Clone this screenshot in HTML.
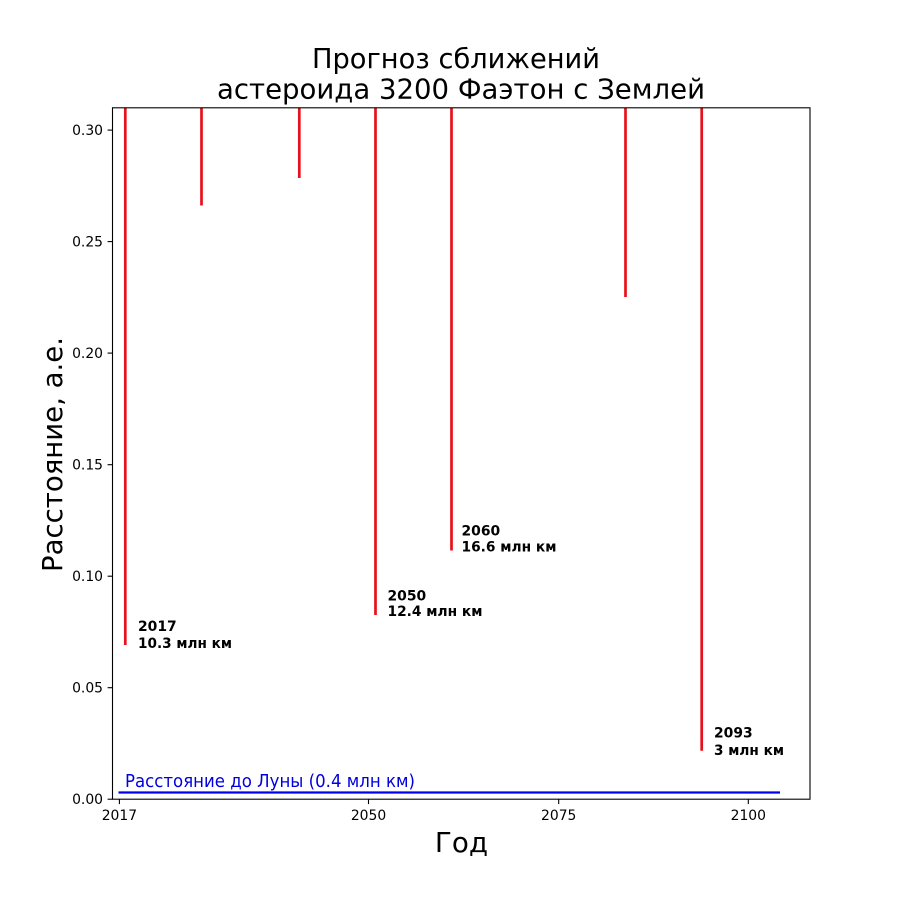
<!DOCTYPE html>
<html><head><meta charset="utf-8"><style>
html,body{margin:0;padding:0;background:#fff;}
svg{display:block;font-family:"DejaVu Sans","Liberation Sans",sans-serif;}
</style></head><body>
<svg width="900" height="898" viewBox="0 0 900 898" xmlns="http://www.w3.org/2000/svg">
<rect width="900" height="898" fill="#fff"/>
<!-- title -->
<text x="456" y="68" font-size="27.8" text-anchor="middle" textLength="288" lengthAdjust="spacingAndGlyphs">Прогноз сближений</text>
<text x="461" y="98.5" font-size="27.8" text-anchor="middle" textLength="488" lengthAdjust="spacingAndGlyphs">астероида 3200 Фаэтон с Землей</text>
<!-- red lines -->
<g stroke="#e8101a" stroke-width="2.7" fill="none">
<line x1="125.3" y1="108" x2="125.3" y2="645"/>
<line x1="201.5" y1="108" x2="201.5" y2="205.5"/>
<line x1="299.3" y1="108" x2="299.3" y2="178"/>
<line x1="375.5" y1="108" x2="375.5" y2="615"/>
<line x1="451.5" y1="108" x2="451.5" y2="550.5"/>
<line x1="625.5" y1="108" x2="625.5" y2="297"/>
<line x1="701.7" y1="108" x2="701.7" y2="750.7"/>
</g>
<!-- blue moon line -->
<line x1="118.5" y1="792.5" x2="780" y2="792.5" stroke="#0000ee" stroke-width="2.2"/>
<text x="125" y="787" font-size="18" fill="#0000dd" textLength="290" lengthAdjust="spacingAndGlyphs">Расстояние до Луны (0.4 млн км)</text>
<!-- annotations -->
<g font-size="13.9" font-weight="bold" fill="#000">
<text x="138" y="631">2017</text>
<text x="138" y="648" textLength="94" lengthAdjust="spacingAndGlyphs">10.3 млн км</text>
<text x="387.5" y="600.5">2050</text>
<text x="387.5" y="616" textLength="95" lengthAdjust="spacingAndGlyphs">12.4 млн км</text>
<text x="461.5" y="535.5">2060</text>
<text x="461.5" y="551.5" textLength="95" lengthAdjust="spacingAndGlyphs">16.6 млн км</text>
<text x="714" y="737.5">2093</text>
<text x="714" y="755" textLength="70" lengthAdjust="spacingAndGlyphs">3 млн км</text>
</g>
<!-- axes box -->
<rect x="112.5" y="107.8" width="697.5" height="691.4" fill="none" stroke="#000" stroke-width="1.1"/>
<!-- y ticks -->
<g stroke="#000" stroke-width="1.1">
<line x1="107.6" y1="799.2" x2="112.5" y2="799.2"/>
<line x1="107.6" y1="687.7" x2="112.5" y2="687.7"/>
<line x1="107.6" y1="576.2" x2="112.5" y2="576.2"/>
<line x1="107.6" y1="464.7" x2="112.5" y2="464.7"/>
<line x1="107.6" y1="353.1" x2="112.5" y2="353.1"/>
<line x1="107.6" y1="241.6" x2="112.5" y2="241.6"/>
<line x1="107.6" y1="130.1" x2="112.5" y2="130.1"/>
<line x1="119.4" y1="799.2" x2="119.4" y2="804.1"/>
<line x1="368.5" y1="799.2" x2="368.5" y2="804.1"/>
<line x1="558.7" y1="799.2" x2="558.7" y2="804.1"/>
<line x1="748.3" y1="799.2" x2="748.3" y2="804.1"/>
</g>
<g font-size="13.9" fill="#000" text-anchor="end">
<text x="103" y="804.2">0.00</text>
<text x="103" y="692.7">0.05</text>
<text x="103" y="581.2">0.10</text>
<text x="103" y="469.7">0.15</text>
<text x="103" y="358.1">0.20</text>
<text x="103" y="246.6">0.25</text>
<text x="103" y="135.1">0.30</text>
</g>
<g font-size="13.9" fill="#000" text-anchor="middle">
<text x="119.4" y="820">2017</text>
<text x="368.5" y="820">2050</text>
<text x="558.7" y="820">2075</text>
<text x="748.3" y="820">2100</text>
</g>
<!-- axis labels -->
<text x="461.5" y="852" font-size="27.8" text-anchor="middle">Год</text>
<text transform="translate(62,454.5) rotate(-90)" font-size="27.8" text-anchor="middle" textLength="235" lengthAdjust="spacingAndGlyphs">Расстояние, а.е.</text>
</svg>
</body></html>
